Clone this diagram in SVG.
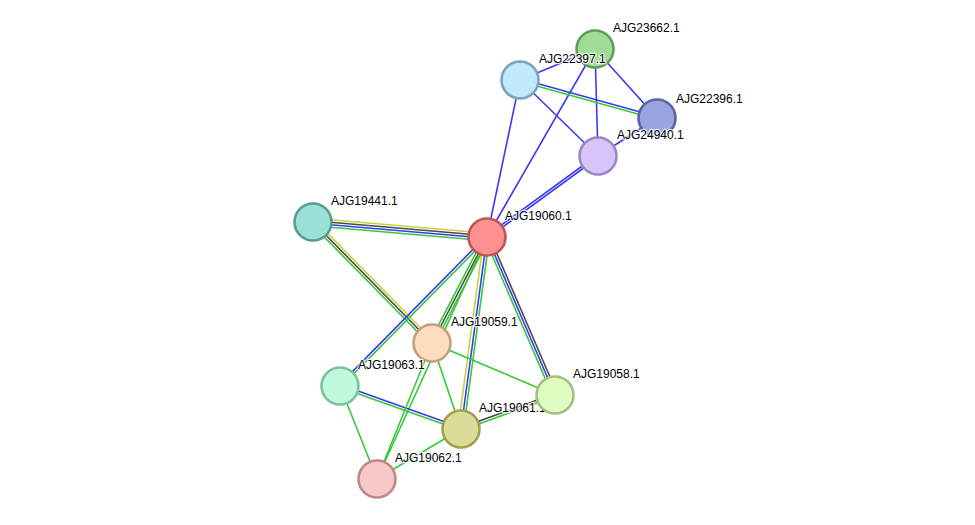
<svg xmlns="http://www.w3.org/2000/svg" width="975" height="525" viewBox="0 0 975 525">
<style>
line{stroke-width:1.6;fill:none}
.b{stroke:#3a3af5}
.g{stroke:#38c838}
.k{stroke:#4a4a4a}
.y{stroke:#c4d43a}
circle{stroke-width:2.6}
text{font-family:"Liberation Sans",Arial,sans-serif;font-size:12px;fill:#000;stroke:#fff;stroke-width:2.5px;stroke-opacity:0.8;paint-order:stroke;stroke-linejoin:round}
</style>
<rect width="975" height="525" fill="#fff"/>
<g id="edges">
<line class="b" x1="520" y1="80" x2="595" y2="49"/>
<line class="b" x1="595" y1="49" x2="657" y2="118"/>
<line class="b" x1="595" y1="49" x2="598" y2="156"/>
<line class="b" x1="595" y1="49" x2="487" y2="237"/>
<line class="b" x1="520" y1="80" x2="598" y2="156"/>
<line class="b" x1="520" y1="80" x2="487" y2="237"/>
<line class="b" x1="657" y1="118" x2="598" y2="156"/>
<line class="b" x1="520.3" y1="78.8" x2="657.3" y2="116.8"/>
<line class="g" x1="519.7" y1="81.2" x2="656.7" y2="119.2"/>
<line class="b" x1="597.3" y1="155" x2="486.3" y2="236"/>
<line class="b" x1="598.7" y1="157" x2="487.7" y2="238"/>
<line class="y" x1="313.3" y1="218.3" x2="487.3" y2="233.3"/>
<line class="k" x1="313.1" y1="220.75" x2="487.1" y2="235.75"/>
<line class="b" x1="312.9" y1="223.25" x2="486.9" y2="238.25"/>
<line class="g" x1="312.7" y1="225.7" x2="486.7" y2="240.7"/>
<line class="y" x1="314.8" y1="220.25" x2="433.8" y2="341.25"/>
<line class="k" x1="313" y1="222" x2="432" y2="343"/>
<line class="g" x1="311.2" y1="223.75" x2="430.2" y2="344.75"/>
<line class="b" x1="486.1" y1="236.1" x2="339.1" y2="385.1"/>
<line class="g" x1="487.9" y1="237.9" x2="340.9" y2="386.9"/>
<line class="g" x1="484.8" y1="235.85" x2="429.8" y2="341.85"/>
<line class="k" x1="487" y1="237" x2="432" y2="343"/>
<line class="g" x1="489.2" y1="238.15" x2="434.2" y2="344.15"/>
<line class="y" x1="484" y1="236.6" x2="458" y2="428.6"/>
<line class="b" x1="487" y1="237" x2="461" y2="429"/>
<line class="g" x1="489.5" y1="237.3" x2="463.5" y2="429.3"/>
<line class="g" x1="484.7" y1="238" x2="552.7" y2="396"/>
<line class="b" x1="487" y1="237" x2="555" y2="395"/>
<line class="k" x1="489.3" y1="236" x2="557.3" y2="394"/>
<line class="g" x1="487" y1="237" x2="377" y2="479"/>
<line class="b" x1="340.4" y1="384.8" x2="461.4" y2="427.8"/>
<line class="g" x1="339.6" y1="387.2" x2="460.6" y2="430.2"/>
<line class="k" x1="460.6" y1="427.8" x2="554.6" y2="393.8"/>
<line class="g" x1="461.4" y1="430.2" x2="555.4" y2="396.2"/>
<line class="g" x1="432" y1="343" x2="555" y2="395"/>
<line class="g" x1="432" y1="343" x2="461" y2="429"/>
<line class="g" x1="432" y1="343" x2="377" y2="479"/>
<line class="g" x1="340" y1="386" x2="377" y2="479"/>
<line class="g" x1="461" y1="429" x2="377" y2="479"/>
</g>
<g id="n-AJG23662"><circle cx="595" cy="49" r="18.5" fill="#a0dc96" stroke="#5e9e5a"/><text x="613" y="32">AJG23662.1</text></g>
<g id="n-AJG22397"><circle cx="520" cy="80" r="18.5" fill="#c2e8fc" stroke="#7ca4bc"/><text x="539" y="63">AJG22397.1</text></g>
<g id="n-AJG22396"><circle cx="657" cy="118" r="18.5" fill="#9aa4e0" stroke="#5a64a0"/><text x="676" y="103">AJG22396.1</text></g>
<g id="n-AJG24940"><circle cx="598" cy="156" r="18.5" fill="#d6c4fa" stroke="#9a88c0"/><text x="617" y="139">AJG24940.1</text></g>
<g id="n-AJG19060"><circle cx="487" cy="237" r="18.5" fill="#ff9090" stroke="#c05454"/><text x="505" y="220">AJG19060.1</text></g>
<g id="n-AJG19441"><circle cx="313" cy="222" r="18.5" fill="#98e0d8" stroke="#5a9c94"/><text x="331" y="205">AJG19441.1</text></g>
<g id="n-AJG19059"><circle cx="432" cy="343" r="18.5" fill="#fddcc0" stroke="#c0a080"/><text x="451" y="326">AJG19059.1</text></g>
<g id="n-AJG19063"><circle cx="340" cy="386" r="18.5" fill="#c0fadc" stroke="#80c0a0"/><text x="358" y="369">AJG19063.1</text></g>
<g id="n-AJG19061"><circle cx="461" cy="429" r="18.5" fill="#dcdc98" stroke="#a0a050"/><text x="479" y="412">AJG19061.1</text></g>
<g id="n-AJG19058"><circle cx="555" cy="395" r="18.5" fill="#e0fcc0" stroke="#a0c080"/><text x="573" y="378">AJG19058.1</text></g>
<g id="n-AJG19062"><circle cx="377" cy="479" r="18.5" fill="#f8c8c8" stroke="#c08888"/><text x="395" y="462">AJG19062.1</text></g>
</svg>
